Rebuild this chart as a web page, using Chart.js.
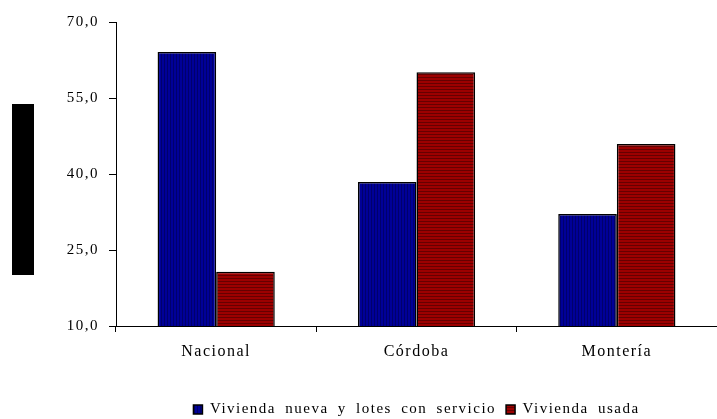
<!DOCTYPE html>
<html lang="es">
<head>
    <meta charset="UTF-8">
    <title>Vivienda</title>
    <script src="https://cdn.jsdelivr.net/npm/chart.js"></script>
    <style>
        body { margin: 0; background: #fff; }
        #wrap { position: relative; width: 717px; height: 419px; overflow: hidden; }
        #ytitle { position: absolute; left: 12px; top: 104px; width: 22px; height: 171px; background: #000; }
    </style>
</head>
<body>
<div id="wrap">
    <canvas id="chart" width="717" height="419"></canvas>
    <div id="ytitle"></div>
</div>

<script>
    // Datos
    const categorias = ['Nacional', 'Córdoba', 'Montería'];
    const viviendaNueva = [64.1, 38.4, 32.1];
    const viviendaUsada = [20.7, 60.1, 45.9];
    const nombresSeries = ['Vivienda nueva y lotes con servicio', 'Vivienda usada'];
    const ticksY = [10, 25, 40, 55, 70];

    // Rayado de las barras
    function rayado(base, linea, vertical) {
        const c = document.createElement('canvas');
        c.width = vertical ? 3 : 1;
        c.height = vertical ? 1 : 3;
        const g = c.getContext('2d');
        g.fillStyle = base;
        g.fillRect(0, 0, c.width, c.height);
        g.fillStyle = linea;
        if (vertical) g.fillRect(2, 0, 1, 1); else g.fillRect(0, 2, 1, 1);
        return g.createPattern(c, 'repeat');
    }
    const azul = rayado('#000098', '#00006c', true);
    const rojo = rayado('#9c0000', '#660000', false);

    // Espaciado de letras y palabras como en el original
    function espaciar(chart) {
        chart.ctx.letterSpacing = '1.5px';
        chart.ctx.wordSpacing = '4px';
    }
    const espaciado = {
        id: 'espaciado',
        beforeUpdate: espaciar,
        beforeLayout: espaciar,
        beforeDraw: espaciar,
        // la leyenda va centrada bajo el área del gráfico, no bajo el lienzo
        afterLayout(chart) {
            const dx = (chart.chartArea.left + chart.chartArea.right) / 2 - (chart.legend.left + chart.legend.right) / 2;
            chart.legend.left += dx;
            chart.legend.right += dx;
        }
    };

    Chart.defaults.font.family = '"Liberation Serif", "Times New Roman", serif';
    Chart.defaults.font.size = 15;
    Chart.defaults.color = '#000';

    const ctx = document.getElementById('chart').getContext('2d');
    const chart = new Chart(ctx, {
        type: 'bar',
        data: {
            labels: categorias,
            datasets: [{
                label: nombresSeries[0],
                data: viviendaNueva,
                backgroundColor: azul,
                borderColor: '#000',
                borderWidth: 1.5
            }, {
                label: nombresSeries[1],
                data: viviendaUsada,
                backgroundColor: rojo,
                borderColor: '#000',
                borderWidth: 1.5
            }]
        },
        options: {
            responsive: false,
            animation: false,
            layout: { padding: { top: 22, left: 0, right: 0, bottom: -8 } },
            datasets: { bar: { categoryPercentage: 0.585, barPercentage: 1 } },
            plugins: {
                tooltip: { enabled: false },
                legend: {
                    position: 'bottom',
                    labels: { boxWidth: 9, boxHeight: 9, padding: 10 }
                }
            },
            scales: {
                x: {
                    grid: { display: true, drawOnChartArea: false, offset: true, tickLength: 6, color: '#000' },
                    border: { color: '#000', width: 1 },
                    ticks: { padding: 10, font: { size: 16 } },
                    afterFit(scale) { scale.height = 66; }
                },
                y: {
                    min: 10,
                    max: 70,
                    afterBuildTicks(scale) { scale.ticks = ticksY.map(v => ({ value: v })); },
                    grid: { display: true, drawOnChartArea: false, tickLength: 7, color: '#000' },
                    border: { color: '#000', width: 1 },
                    ticks: {
                        padding: 10,
                        callback: v => v.toFixed(1).replace('.', ',')
                    },
                    afterFit(scale) { scale.width = 116; }
                }
            }
        },
        plugins: [espaciado]
    });
</script>
</body>
</html>
